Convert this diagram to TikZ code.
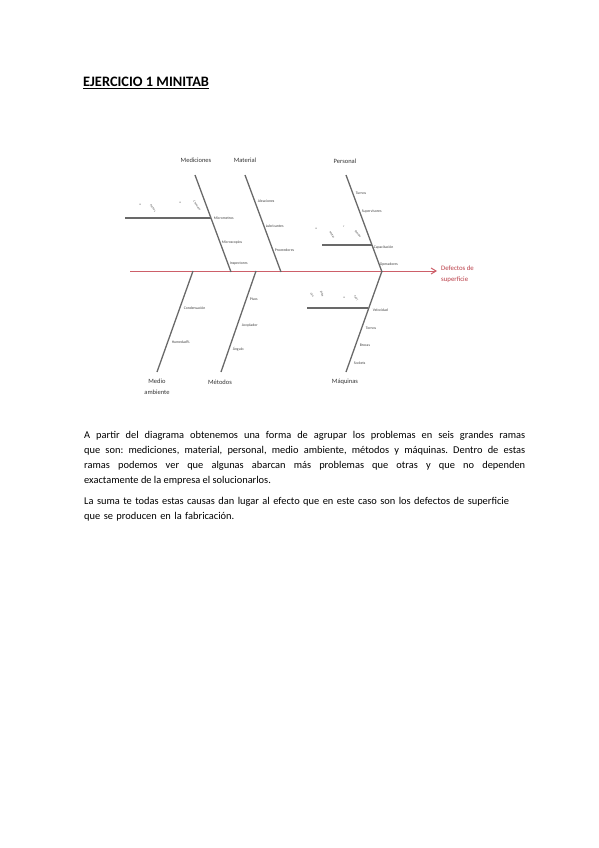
\documentclass[tikz,border=0pt]{standalone}
\usepackage{fontspec}
\setmainfont{Carlito}
\usetikzlibrary{arrows.meta}
\definecolor{spinered}{RGB}{205,95,105}
\definecolor{bonegray}{RGB}{105,105,105}
\definecolor{textred}{RGB}{185,60,70}
\tikzset{
  bone/.style = {draw=bonegray, line width=1.3pt},
  spine/.style = {draw=spinered, line width=1pt, -{Straight Barb[length=5pt,width=6pt]}},
  branchname/.style = {font=\fontsize{6.5}{7}\selectfont, text=black!80, inner sep=0pt, align=center},
  cause/.style = {font=\fontsize{3.8}{4}\selectfont, text=black!75, inner sep=0.6pt, anchor=west},
  subcause/.style = {font=\fontsize{3}{3.5}\selectfont, text=black!70, inner sep=0pt, rotate=-55}
}
\frenchspacing
\begin{document}
\begin{tikzpicture}[x = 1pt, y = -1pt]
    \useasboundingbox (0,0) rectangle (599,848);
    % title
    \node[anchor=base west, inner sep=0pt, font=\fontsize{14.4}{16}\selectfont\bfseries]
      (title) at (83,87) {\underline{EJERCICIO 1 MINITAB}};

    % end points of the bones
    \coordinate (tail) at (130,271);
    \coordinate (head) at (437,271);
    \coordinate (medTop) at (195,175);   \coordinate (medEnd) at (231,272);
    \coordinate (matTop) at (245,175);   \coordinate (matEnd) at (281,272);
    \coordinate (perTop) at (346,175);   \coordinate (perEnd) at (382,272);
    \coordinate (ambBot) at (157,372);   \coordinate (ambEnd) at (193,271);
    \coordinate (metBot) at (221,372);   \coordinate (metEnd) at (256,271);
    \coordinate (maqBot) at (346,372);   \coordinate (maqEnd) at (382,271);
    \coordinate (medSub) at (125,218);   \coordinate (medJoin) at (211,218);
    \coordinate (perSub) at (322,245);   \coordinate (perJoin) at (372,245);
    \coordinate (maqSub) at (307,308);   \coordinate (maqJoin) at (368,308);

    \draw[spine] (tail) -- (head);
    \begin{scope}[bone]
    \draw (medTop) -- (medEnd);
    \draw (matTop) -- (matEnd);
    \draw (perTop) -- (perEnd);
    \draw (ambBot) -- (ambEnd);
    \draw (metBot) -- (metEnd);
    \draw (maqBot) -- (maqEnd);
    \draw (medSub) -- (medJoin);
    \draw (perSub) -- (perJoin);
    \draw (maqSub) -- (maqJoin);
    \end{scope}

    % effect
    \node[anchor=west, inner sep=0pt, align=left, text=textred,
      font=\fontsize{6.8}{11.5}\selectfont] (effect) at (441,274) {Defectos de\\superficie};

    % branch names
    \node[branchname] (mediciones) at (196,160) {Mediciones};
    \node[branchname] (material) at (245,160) {Material};
    \node[branchname] (personal) at (345,161) {Personal};
    \node[branchname, font=\fontsize{6.5}{10.5}\selectfont] (ambiente) at (157,387) {Medio\\ambiente};
    \node[branchname] (metodos) at (220,382) {Métodos};
    \node[branchname] (maquinas) at (345,382) {Máquinas};

    % causes
    \node[cause] (micrometros) at (213,218) {Micrometros};
    \node[cause] (microscopios) at (221,242) {Microscopios};
    \node[cause] (inspectores) at (229,264) {Inspectores};
    \node[cause] (aleaciones) at (257,201) {Aleaciones};
    \node[cause] (lubricantes) at (265,226) {Lubricantes};
    \node[cause] (proveedores) at (274,250) {Proveedores};
    \node[cause] (turnos) at (355,193) {Turnos};
    \node[cause] (supervisores) at (361,211) {Supervisores};
    \node[cause] (capacitacion) at (373,247) {Capacitación};
    \node[cause] (operadores) at (379,264) {Operadores};
    \node[cause] (condensacion) at (183,308) {Condensación};
    \node[cause] (humedad) at (171,342) {Humedad\%};
    \node[cause] (pisos) at (249,299) {Pisos};
    \node[cause] (acoplador) at (241,325) {Acoplador};
    \node[cause] (angulo) at (232,349) {Ángulo};
    \node[cause] (velocidad) at (372,310) {Velocidad};
    \node[cause] (tornos) at (365,328) {Tornos};
    \node[cause] (brocas) at (359,345) {Brocas};
    \node[cause] (sockets) at (353,363) {Sockets};

    % sub causes
    \node[subcause, rotate=55] (medA) at (140,205) {a};
    \node[subcause] (fechas) at (153,208) {Fechas};
    \node[subcause, rotate=55] (medB) at (180,203) {a};
    \node[subcause] (chequeo) at (197,206) {Chequeo};
    \node[subcause, rotate=55] (perA) at (316,229) {a};
    \node[subcause] (metas) at (332,235) {Metas};
    \node[subcause, rotate=55] (perB) at (344,227) {r};
    \node[subcause] (rumbo) at (358,234) {Rumbo};
    \node[subcause, rotate=20] (maqA) at (312,295) {Ma};
    \node[subcause, rotate=-20] (maqB) at (322,294) {pinta};
    \node[subcause, rotate=55] (maqC) at (344,298) {a};
    \node[subcause] (maqD) at (356,298) {fa pi};

    % text
    \node[anchor=north west, inner sep=0pt, text width=441pt, align=justify,
      font=\fontsize{10.4}{15}\selectfont] (parrafo) at (84,431)
      {A partir del diagrama obtenemos una forma de agrupar los problemas en seis grandes ramas\linebreak
       que son: mediciones, material, personal, medio ambiente, métodos y máquinas. Dentro de estas\linebreak
       ramas podemos ver que algunas abarcan más problemas que otras y que no dependen\linebreak
       exactamente de la empresa el solucionarlos.};
    \node[anchor=north west, inner sep=0pt, text width=441pt, align=left,
      font=\fontsize{10.4}{15}\selectfont] (conclusion) at (84,497)
      {La suma te todas estas causas dan lugar al efecto que en este caso son los defectos de superficie\\
       que se producen en la fabricación.};
\end{tikzpicture}
\end{document}
